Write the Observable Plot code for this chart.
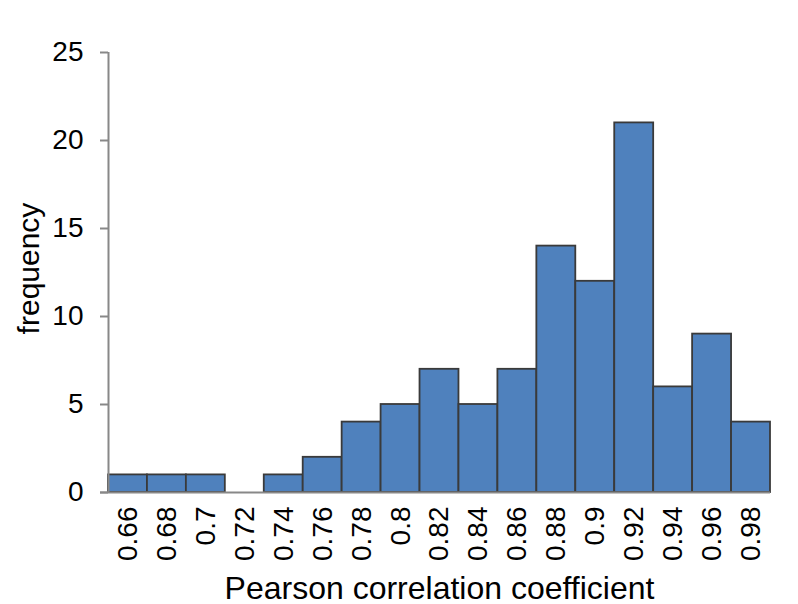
<!DOCTYPE html>
<html>
<head>
<meta charset="utf-8">
<script src="https://cdn.jsdelivr.net/npm/d3@7"></script>
<script src="https://cdn.jsdelivr.net/npm/@observablehq/plot@0.6"></script>
<style>
  html, body { margin: 0; padding: 0; background: #fff; }
  svg { font-family: Arial, "Liberation Sans", sans-serif; }
</style>
</head>
<body>
<div id="chart"></div>
<script>
const binCenters = [0.66, 0.68, 0.70, 0.72, 0.74, 0.76, 0.78, 0.80, 0.82, 0.84, 0.86, 0.88, 0.90, 0.92, 0.94, 0.96, 0.98];
const counts =     [1,    1,    1,    0,    1,    2,    4,    5,    7,    5,    7,    14,   12,   21,   6,    9,    4];
const yTicks = [0, 5, 10, 15, 20, 25];
const binWidth = 0.02;
const xLabel = "Pearson correlation coefficient";
const yLabel = "frequency";

const data = binCenters.map((c, i) => ({ x1: +(c - binWidth / 2).toFixed(3), x2: +(c + binWidth / 2).toFixed(3), count: counts[i] }));
const xMin = binCenters[0] - binWidth / 2;
const xMax = binCenters[binCenters.length - 1] + binWidth / 2;

const chart = Plot.plot({
  width: 798,
  height: 604,
  marginLeft: 108,
  marginRight: 28,
  marginTop: 52,
  marginBottom: 112,
  style: { fontFamily: "Arial, 'Liberation Sans', sans-serif", background: "#fff", color: "#000" },
  x: { domain: [xMin, xMax] },
  y: { domain: [0, 25] },
  marks: [
    Plot.rectY(data, { x1: "x1", x2: "x2", y: "count", fill: "#4F81BD", stroke: "#3a3a3a", strokeWidth: 1.8 }),
    Plot.ruleY([0], { stroke: "#888", strokeWidth: 2, insetLeft: -8 }),
    Plot.ruleX([xMin], { y1: 0, y2: 25, stroke: "#888", strokeWidth: 2 }),
    Plot.axisY({ ticks: yTicks, tickSize: 8, tickPadding: 17, stroke: "#888", strokeWidth: 2, fontSize: 28, fill: "#000", label: null }),
    Plot.axisX({ ticks: binCenters, tickSize: 0, tickPadding: 14, tickRotate: -90, fontSize: 28, fill: "#000", label: null, tickFormat: d => String(+d.toFixed(2)) }),
    Plot.text([yLabel], { text: d => d, frameAnchor: "left", textAnchor: "middle", dx: -79, dy: -4, rotate: -90, fontSize: 30, fill: "#000" }),
    Plot.text([xLabel], { text: d => d, frameAnchor: "bottom", textAnchor: "middle", lineAnchor: "bottom", dy: 106, fontSize: 32, fill: "#000" })
  ]
});
document.getElementById("chart").appendChild(chart);
</script>
</body>
</html>
